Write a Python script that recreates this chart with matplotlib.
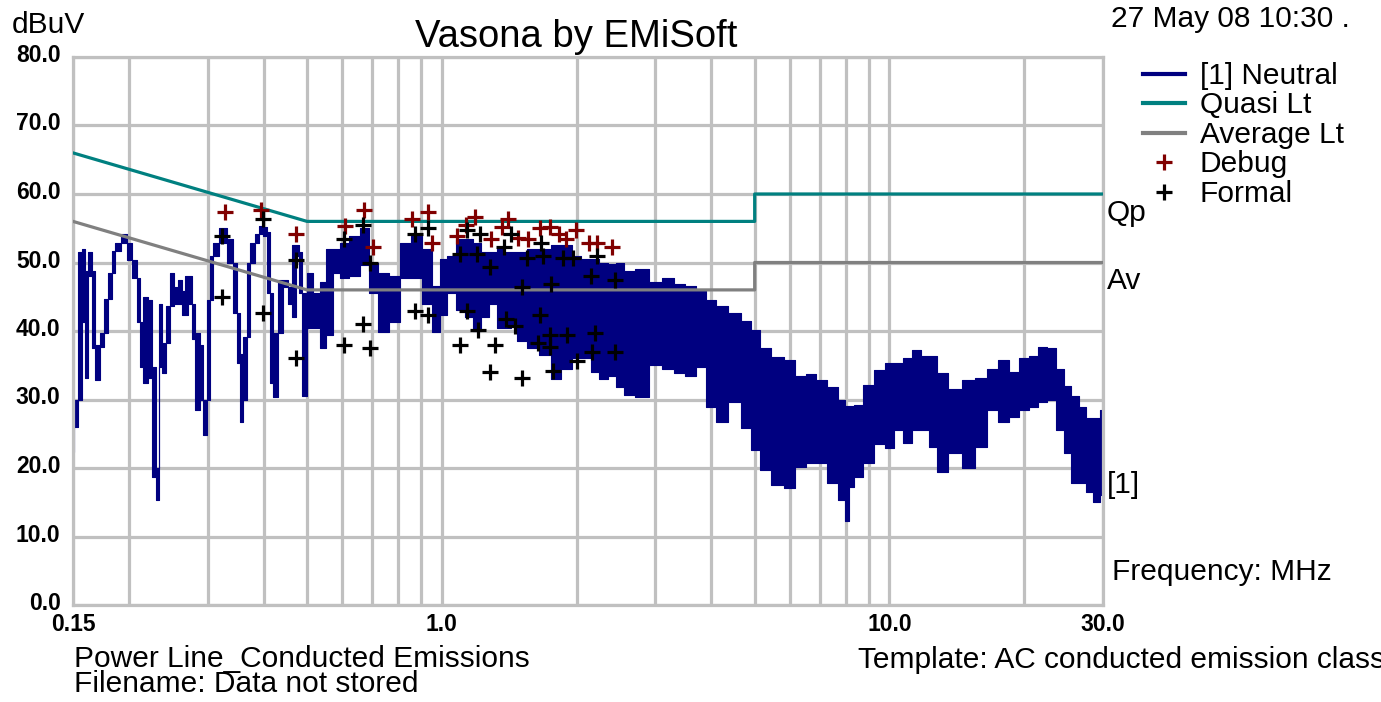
import matplotlib.pyplot as plt
from matplotlib.lines import Line2D
from matplotlib.ticker import FixedLocator, NullFormatter
from matplotlib.transforms import ScaledTranslation

plt.rcParams['font.family'] = ['Liberation Sans', 'DejaVu Sans']

# [1] Neutral trace, read as columns: frequency (MHz), top and bottom of the trace (dBuV)
freq = [0.150, 0.1523, 0.1555, 0.1583, 0.1604, 0.1637, 0.1667, 0.1701, 0.1745, 0.1782,
        0.1814, 0.1847, 0.1885, 0.1949, 0.2010, 0.2063, 0.2100, 0.2133, 0.2177, 0.2234,
        0.2280, 0.2316, 0.2346, 0.2401, 0.2451, 0.2495, 0.2553, 0.2600, 0.2647, 0.2688,
        0.2737, 0.2787, 0.2844, 0.2911, 0.2956, 0.3010, 0.3057, 0.3120, 0.3242, 0.3370,
        0.3449, 0.3511, 0.3566, 0.3630, 0.3696, 0.3774, 0.3871, 0.3952, 0.4024, 0.4097,
        0.4160, 0.4247, 0.4358, 0.4471, 0.4576, 0.4683, 0.4768, 0.4817, 0.4929, 0.5058,
        0.5230, 0.5436, 0.5605, 0.5797, 0.6024, 0.6374, 0.6728, 0.6992, 0.7399, 0.7850,
        0.8265, 0.8767, 0.9301, 0.9716, 1.007, 1.052,
        1.10, 1.15, 1.20, 1.25, 1.30, 1.35, 1.40, 1.45, 1.50, 1.60,
        1.70, 1.80, 1.90, 2.00, 2.10, 2.20, 2.30, 2.40, 2.50, 2.60,
        2.80, 3.00, 3.20, 3.40, 3.60, 3.80, 4.00, 4.20, 4.50, 4.80,
        5.00, 5.30, 5.60, 6.00, 6.30, 6.70, 7.00, 7.50, 7.87, 8.07,
        8.20, 8.50, 9.00, 9.50, 10.0, 10.5, 11.0, 11.5, 12.0, 12.5,
        13.0, 14.0, 15.0, 16.0, 17.0, 18.0, 19.0, 20.0, 21.0, 22.0,
        23.0, 24.0, 25.0, 26.0, 27.0, 28.0, 29.0, 30.0]
trace_hi = [27.7, 30.0, 51.5, 51.9, 48.8, 51.5, 48.8, 37.9, 39.7, 44.7,
            48.5, 51.7, 52.9, 54.2, 52.9, 50.3, 47.7, 41.3, 44.9, 44.5,
            34.7, 20.0, 44.0, 38.2, 43.7, 48.5, 46.4, 47.5, 45.9, 48.0,
            48.0, 44.0, 39.7, 37.9, 30.0, 44.5, 51.0, 52.8, 55.0, 53.5,
            50.0, 42.6, 36.7, 39.1, 50.0, 52.9, 54.2, 55.4, 55.2, 54.4,
            45.5, 39.7, 47.4, 47.4, 46.4, 52.5, 52.5, 51.5, 45.6, 48.5,
            45.6, 47.1, 52.0, 52.0, 52.9, 53.9, 55.0, 50.0, 48.5, 48.1,
            52.9, 53.9, 52.0, 46.6, 50.5, 51.0,
            53.5, 53.5, 52.9, 51.5, 51.5, 52.0, 51.5, 51.5, 51.5, 52.0,
            52.0, 52.5, 52.5, 51.0, 50.5, 50.5, 50.0, 49.8, 49.9, 48.8,
            49.0, 47.1, 47.7, 46.9, 46.6, 45.9, 44.5, 43.6, 42.7, 41.5,
            40.1, 37.5, 36.2, 35.7, 33.4, 33.7, 32.8, 31.8, 30.0, 29.0,
            29.0, 29.2, 32.1, 34.3, 35.4, 35.4, 36.0, 37.2, 36.3, 36.3,
            33.8, 31.6, 32.8, 33.2, 34.5, 35.7, 34.0, 36.0, 36.3, 37.6,
            37.5, 34.5, 32.0, 30.5, 28.9, 27.3, 27.3, 28.5]
trace_lo = [22.3, 26.0, 30.0, 41.3, 33.2, 48.0, 37.5, 32.8, 37.6, 39.7,
            44.7, 48.5, 51.7, 52.9, 50.3, 47.7, 41.3, 34.7, 32.4, 33.2,
            18.7, 15.3, 34.7, 33.8, 38.2, 43.7, 44.0, 44.0, 42.3, 42.3,
            44.0, 38.9, 28.4, 29.9, 24.8, 30.0, 44.5, 51.0, 52.8, 50.0,
            42.6, 35.3, 26.7, 29.9, 39.1, 50.0, 52.9, 54.2, 53.8, 45.5,
            32.4, 30.3, 39.7, 46.4, 44.0, 42.0, 51.0, 45.6, 30.5, 40.4,
            40.4, 37.5, 39.4, 48.5, 47.7, 48.1, 49.6, 45.6, 39.8, 41.3,
            47.7, 47.7, 44.0, 39.8, 42.3, 45.6,
            43.0, 42.0, 40.0, 42.0, 44.0, 40.5, 40.5, 41.0, 38.5, 37.5,
            36.5, 33.0, 34.5, 36.0, 36.0, 34.0, 33.0, 33.5, 31.8, 30.6,
            30.3, 35.0, 34.5, 33.8, 33.5, 34.7, 28.9, 26.7, 29.6, 25.9,
            22.6, 19.7, 17.5, 17.1, 20.1, 20.7, 20.7, 17.8, 15.3, 12.2,
            17.2, 18.7, 20.7, 23.5, 22.9, 25.5, 23.6, 25.5, 25.5, 23.0,
            19.4, 22.2, 20.0, 23.0, 28.4, 26.7, 27.4, 28.4, 28.9, 29.6,
            30.0, 25.5, 22.2, 17.8, 17.8, 16.5, 15.0, 16.0]

# limit lines
lim_f = [0.15, 0.5, 5.0, 5.0, 30.0]
quasi_lim = [66.0, 56.0, 56.0, 60.0, 60.0]
avg_lim = [56.0, 46.0, 46.0, 50.0, 50.0]

# debug measurements
debug_f = [0.328, 0.394, 0.472, 0.607, 0.669, 0.701, 0.857, 0.930, 0.949, 1.079,
           1.130, 1.184, 1.286, 1.360, 1.403, 1.477, 1.555, 1.654, 1.741, 1.823,
           1.890, 1.990, 2.128, 2.217, 2.395]
debug_v = [57.3, 57.7, 54.2, 55.4, 57.7, 52.2, 56.3, 57.3, 52.8, 53.9,
           55.5, 56.7, 53.5, 55.2, 56.4, 53.6, 53.5, 55.1, 55.2, 54.1,
           53.5, 54.8, 52.8, 52.8, 52.2]

# formal measurements
formal_f = [0.3226, 0.3226, 0.398, 0.398, 0.472, 0.472, 0.604, 0.604, 0.666, 0.666,
            0.690, 0.690, 0.870, 0.870, 0.930, 0.930, 1.096, 1.096, 1.136, 1.136,
            1.196, 1.203, 1.215, 1.279, 1.279, 1.312, 1.375, 1.389, 1.425, 1.455,
            1.508, 1.508, 1.547, 1.637, 1.654, 1.662, 1.680, 1.750, 1.741, 1.741,
            1.768, 1.861, 1.900, 1.960, 2.000, 2.150, 2.161, 2.194, 2.217, 2.432,
            2.432]
formal_v = [53.8, 44.9, 56.4, 42.6, 50.3, 36.0, 53.4, 37.9, 55.5, 41.0,
            49.9, 37.5, 54.1, 42.9, 55.1, 42.3, 51.3, 37.9, 54.7, 42.9,
            51.3, 40.2, 54.2, 49.4, 34.0, 37.9, 52.3, 41.8, 54.1, 40.8,
            46.4, 33.1, 50.7, 38.3, 42.4, 52.9, 51.0, 46.8, 39.4, 37.6,
            34.1, 50.7, 39.4, 50.7, 35.6, 48.1, 37.0, 39.7, 51.0, 47.4,
            37.0]

navy = '#000080'
teal = '#008080'
grey = '#808080'
maroon = '#800000'
gridc = '#c0c0c0'

fig = plt.figure(figsize=(13.81, 7.02), dpi=100)
ax = fig.add_axes([73 / 1381, 97 / 702, 1030 / 1381, 548 / 702])

ax.fill_between(freq, trace_lo, trace_hi, step='mid', color=navy, lw=0.8, zorder=2)
ax.plot(lim_f, quasi_lim, color=teal, lw=2.3, zorder=3)
ax.plot(lim_f, avg_lim, color=grey, lw=2.3, zorder=3)
ax.plot(debug_f, debug_v, '+', color=maroon, ms=12, mew=2.3, zorder=4)
ax.plot(formal_f, formal_v, '+', color='black', ms=12, mew=2.3, zorder=5)

ax.set_xscale('log')
ax.set_xlim(0.15, 30)
ax.set_ylim(0, 80)
ax.set_xticks([0.15, 1, 10, 30])
ax.set_xticklabels(['0.15', '1.0', '10.0', '30.0'], fontweight='bold')
ax.xaxis.set_minor_locator(FixedLocator([0.2, 0.3, 0.4, 0.5, 0.6, 0.7, 0.8, 0.9,
                                         2, 3, 4, 5, 6, 7, 8, 9, 20]))
ax.xaxis.set_minor_formatter(NullFormatter())
ax.set_yticks(range(0, 81, 10))
ax.set_yticklabels(['%.1f' % v for v in range(0, 81, 10)], fontweight='bold')
ax.tick_params(which='both', length=0, labelsize=16.5)
ax.tick_params(axis='y', pad=9)
ax.tick_params(axis='x', pad=6)
for lab in ax.get_yticklabels():
    lab.set_transform(lab.get_transform() + ScaledTranslation(0, 0.04, fig.dpi_scale_trans))
ax.grid(which='both', color=gridc, lw=2.3, zorder=0)
ax.set_axisbelow(True)
for sp in ax.spines.values():
    sp.set_color(gridc)
    sp.set_linewidth(2.3)

# labels beside the plot
side = ax.get_yaxis_transform()
ax.text(1.004, 56.1, 'Qp', transform=side, fontsize=21.5, va='baseline')
ax.text(1.004, 46.2, 'Av', transform=side, fontsize=21.5, va='baseline')
ax.text(1.004, 16.3, '[1]', transform=side, fontsize=21.5, va='baseline')
ax.text(1.009, 3.6, 'Frequency: MHz', transform=side, fontsize=21.5, va='baseline')

fig.text(12 / 1381, 1 - 33 / 702, 'dBuV', fontsize=21.5, va='baseline')
fig.text(576 / 1381, 1 - 47 / 702, 'Vasona by EMiSoft', fontsize=27.5, ha='center', va='baseline')
fig.text(1111 / 1381, 1 - 27 / 702, '27 May 08 10:30 .', fontsize=21.5, va='baseline')
fig.text(74 / 1381, 1 - 667 / 702, 'Power Line_Conducted Emissions', fontsize=21.5, va='baseline')
fig.text(74 / 1381, 1 - 692 / 702, 'Filename: Data not stored', fontsize=21.5, va='baseline')
fig.text(858 / 1381, 1 - 668 / 702, 'Template: AC conducted emission class B', fontsize=21.5, va='baseline')

handles = [Line2D([], [], color=navy, lw=3),
           Line2D([], [], color=teal, lw=3),
           Line2D([], [], color=grey, lw=3),
           Line2D([], [], color=maroon, ls='none', marker='+', ms=12, mew=2.3),
           Line2D([], [], color='black', ls='none', marker='+', ms=12, mew=2.3)]
labels = ['[1] Neutral', 'Quasi Lt', 'Average Lt', 'Debug', 'Formal']
fig.legend(handles, labels, loc='upper left', bbox_to_anchor=(1143 / 1381, 1 - 62 / 702),
           bbox_transform=fig.transFigure, frameon=False, fontsize=21.5, borderpad=0,
           borderaxespad=0, handlelength=1.4, handletextpad=0.5, labelspacing=0.05)

fig.savefig('out.png', dpi=100)
